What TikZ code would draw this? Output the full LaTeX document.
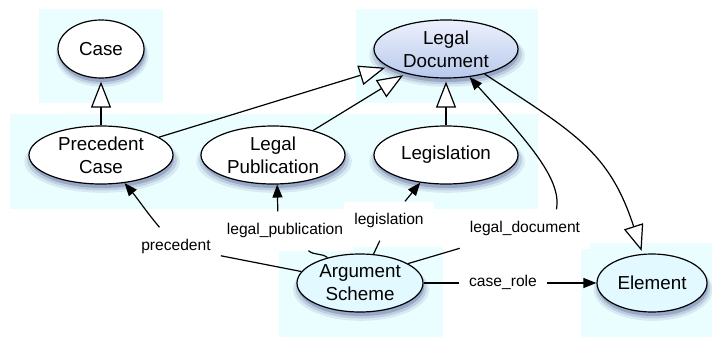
\documentclass[tikz,border=0pt]{standalone}
\usepackage{fontspec}
\setmainfont{Liberation Sans}
\usetikzlibrary{arrows.meta,shapes.geometric,shadows}

\definecolor{bandcyan}{RGB}{234,254,255}
\definecolor{conceptcyan}{RGB}{226,249,255}
\definecolor{docpale}{RGB}{236,241,252}
\definecolor{docblue}{RGB}{184,201,236}
\definecolor{shadowblue}{RGB}{50,60,130}

\begin{document}
\begin{tikzpicture}[
      x=1pt,
      y=1pt,
      band/.style={fill=bandcyan, draw=none},
      soft shadow/.style={
        general shadow={fill=shadowblue, fill opacity=0.10,
          shadow xshift=1pt, shadow yshift=-6pt, shadow scale=1.08},
        general shadow={fill=shadowblue, fill opacity=0.16,
          shadow xshift=1pt, shadow yshift=-5pt, shadow scale=1.04},
        general shadow={fill=shadowblue, fill opacity=0.26,
          shadow xshift=1pt, shadow yshift=-4pt}
      },
      concept/.style={
        ellipse,
        draw=black,
        line width=1.2pt,
        fill=white,
        inner sep=0pt,
        minimum width=144pt,
        minimum height=58pt,
        align=center,
        font=\fontsize{18.8}{23}\selectfont,
        soft shadow
      },
      rolelabel/.style={
        fill=white,
        font=\fontsize{15.6}{18}\selectfont,
        inner xsep=10pt,
        inner ysep=12pt,
        text height=11pt,
        text depth=4pt
      },
      isa/.style={
        -{Triangle[length=26pt,width=20pt,fill=white]},
        line width=1.2pt,
        shorten >=3pt
      },
      relation/.style={line width=1.2pt},
      points/.style={-{Triangle[length=13pt,width=10pt]}}
    ]
    \useasboundingbox (0,0) rectangle (712,338);

    % light groups behind the classes
    \fill[band] (39,235) rectangle (163,329);
    \fill[band] (10,129) rectangle (538,224);
    \fill[band] (356,235) rectangle (538,329);
    \fill[band] (279,1) rectangle (443,91);
    \fill[band] (581,1) rectangle (712,95);

    \node[concept, minimum width=86pt] (case) at (101,289) {Case};
    \node[concept, top color=docpale, bottom color=docblue] (legaldoc)
      at (446,289) {Legal\\Document};
    \node[concept] (precedent) at (101,183) {Precedent\\Case};
    \node[concept] (legalpub) at (273,183) {Legal\\Publication};
    \node[concept] (legislation) at (446,183) {Legislation};
    \node[concept, minimum width=126pt, fill=conceptcyan] (argscheme)
      at (360,55) {Argument\\Scheme};
    \node[concept, minimum width=110pt, fill=conceptcyan] (element)
      at (652,55) {Element};

    \node[rolelabel] (lprec) at (176,91) {precedent};
    \node[rolelabel] (lpub) at (285,107) {legal\_publication};
    \node[rolelabel] (llegis) at (389,117) {legislation};
    \node[rolelabel] (ldoc) at (525,109) {legal\_document};
    \node[rolelabel] (lrole) at (503,55) {case\_role};

    % subclass links
    \draw[isa] (precedent) -- (case);
    \draw[isa] (precedent) -- (legaldoc);
    \draw[isa] (legalpub) -- (legaldoc);
    \draw[isa] (legislation) -- (legaldoc);
    \draw[isa] (legaldoc) to[out=-33, in=108, looseness=1.15] (element);

    % roles of the argument scheme
    \draw[relation] (argscheme) -- (lprec);
    \draw[relation, points] (lprec) to[out=130, in=-50] (precedent);

    \draw[relation] (argscheme) to[out=142, in=-40] (lpub);
    \draw[relation, points] (lpub.110) -- (legalpub.-82);

    \draw[relation] (argscheme) -- (llegis);
    \draw[relation, points] (llegis) -- (legislation.-133);

    \draw[relation] (argscheme.22) -- (ldoc);
    \draw[relation, points] (ldoc.32)
      to[out=80, in=-48, out looseness=0.5, in looseness=1.4] (legaldoc.-50);

    \draw[relation] (argscheme) -- (lrole);
    \draw[relation, points] (lrole) -- (element);
  \end{tikzpicture}
\end{document}
